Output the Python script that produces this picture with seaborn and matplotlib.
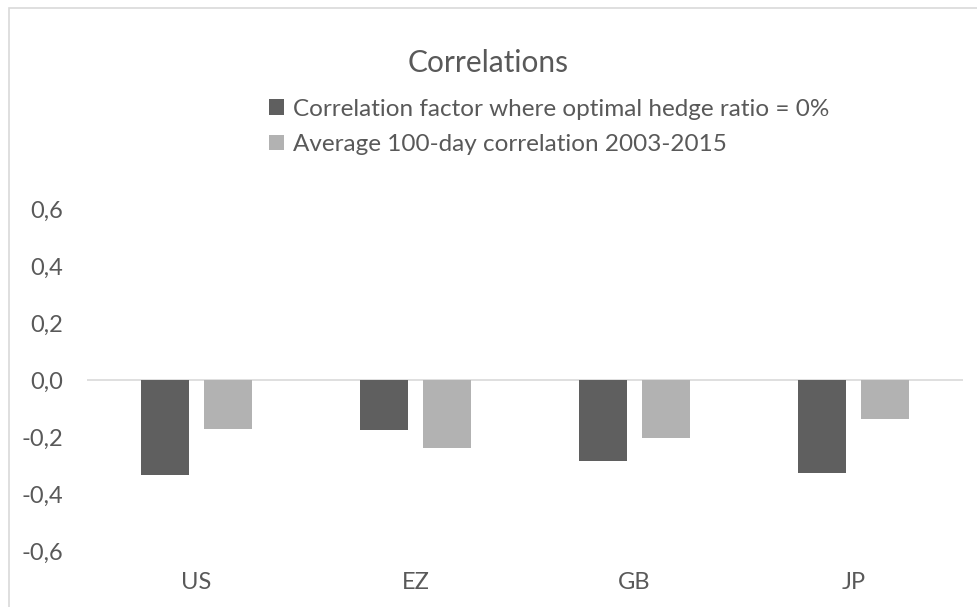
import pandas as pd
import matplotlib
matplotlib.use("Agg")
import matplotlib.pyplot as plt
import matplotlib.patches as mpatches
import seaborn as sns

# values
countries = ['US', 'EZ', 'GB', 'JP']
series_names = ['Correlation factor where optimal hedge ratio = 0%',
                'Average 100-day correlation 2003-2015']
hedge_zero_corr = [-0.333, -0.175, -0.283, -0.327]
avg_100day_corr = [-0.173, -0.240, -0.205, -0.136]
y_ticks = [-0.6, -0.4, -0.2, 0.0, 0.2, 0.4, 0.6]

text_color = '#595959'
grid_color = '#D9D9D9'
bar_colors = ['#5F5F5F', '#B2B2B2']

df = pd.DataFrame({
    'country': countries * 2,
    'series': [series_names[0]] * len(countries) + [series_names[1]] * len(countries),
    'value': hedge_zero_corr + avg_100day_corr,
})

sns.set_theme(style='white')
plt.rcParams['font.family'] = ['Lato', 'DejaVu Sans']

fig = plt.figure(figsize=(9.77, 6.07), dpi=100)
ax = fig.add_axes([0.089, 0.0923, 0.8967, 0.5634])

sns.barplot(data=df, x='country', y='value', hue='series', order=countries,
            hue_order=series_names, palette=bar_colors, width=0.57, gap=0.23,
            saturation=1, edgecolor='none', ax=ax)

ax.axhline(0, color=grid_color, linewidth=1.2, zorder=0.5)
ax.set_xlim(-0.5, len(countries) - 0.5)
ax.set_ylim(y_ticks[0], y_ticks[-1])
ax.set_yticks(y_ticks)
ax.set_yticklabels([f'{t:.1f}'.replace('.', ',') for t in y_ticks])
ax.set_xlabel('')
ax.set_ylabel('')
ax.tick_params(axis='both', length=0, labelsize=17, labelcolor=text_color)
ax.tick_params(axis='y', pad=17)
ax.tick_params(axis='x', pad=15)
for s in ax.spines.values():
    s.set_visible(False)

# legend above the plot
handles, labels = ax.get_legend_handles_labels()
ax.get_legend().remove()
fig.legend(handles, labels, loc='center left', bbox_to_anchor=(269 / 977, 1 - 127 / 607),
           frameon=False, fontsize=17.5, labelcolor=text_color, handlelength=0.63,
           handleheight=0.63, handletextpad=0.34, labelspacing=0.58, borderpad=0,
           borderaxespad=0)

fig.text(0.5, 1 - 63.5 / 607, 'Correlations', ha='center', va='center',
         fontsize=21.5, color=text_color)

# light chart border (cut off at right and bottom in the reference)
fig.patches.append(mpatches.Rectangle((9 / 977, -0.1), 1.2, 1 - 8 / 607 + 0.1,
                                      transform=fig.transFigure, fill=False,
                                      edgecolor=grid_color, linewidth=1.2))

fig.savefig('out.png', dpi=100)
